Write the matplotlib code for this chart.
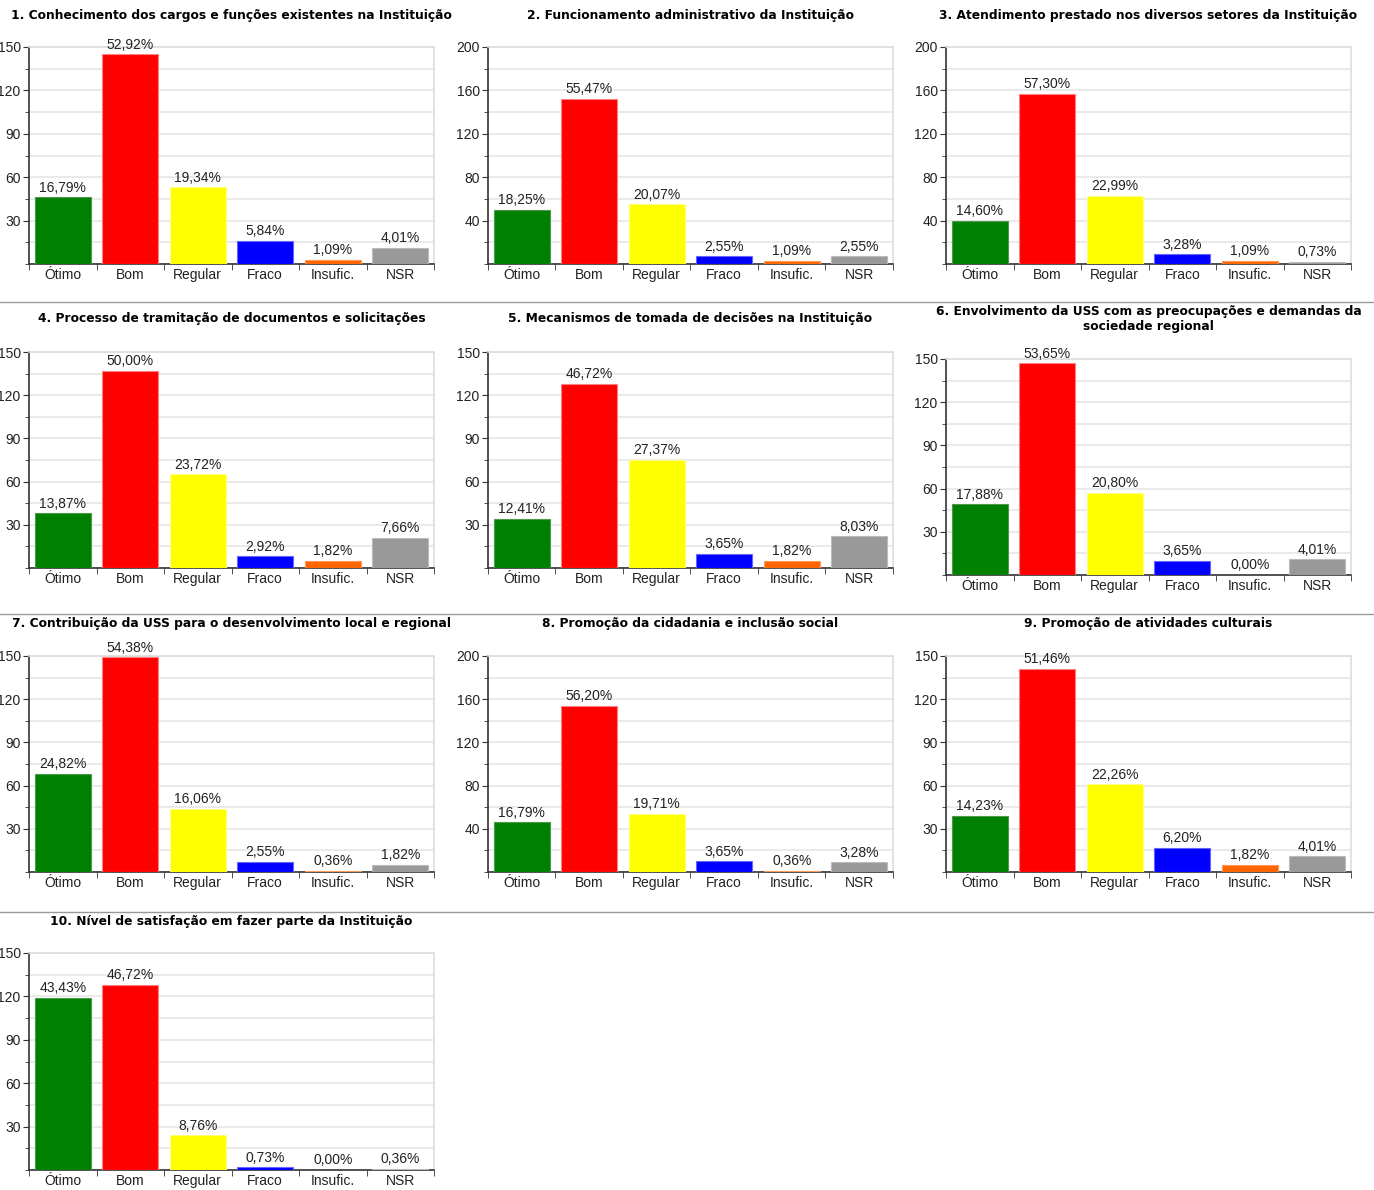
import matplotlib
matplotlib.use("Agg")
import matplotlib.pyplot as plt
from matplotlib.ticker import MultipleLocator

# -----------------------------
# DATA (counts out of 274 respondents)
# -----------------------------
TOTAL = 274
categories = ["Ótimo", "Bom", "Regular", "Fraco", "Insufic.", "NSR"]
colors = ["#008000", "#ff0000", "#ffff00", "#0000ff", "#ff6600", "#999999"]
edges = ["#4d9a4d", "#ff8080", "#ffff80", "#6666ff", "#ff9955", "#bbbbbb"]

titles = [
    "1. Conhecimento dos cargos e funções existentes na Instituição",
    "2. Funcionamento administrativo da Instituição",
    "3. Atendimento prestado nos diversos setores da Instituição",
    "4. Processo de tramitação de documentos e solicitações",
    "5. Mecanismos de tomada de decisões na Instituição",
    "6. Envolvimento da USS com as preocupações e demandas da\nsociedade regional",
    "7. Contribuição da USS para o desenvolvimento local e regional",
    "8. Promoção da cidadania e inclusão social",
    "9. Promoção de atividades culturais",
    "10. Nível de satisfação em fazer parte da Instituição",
]

q1 = [46, 145, 53, 16, 3, 11]
q2 = [50, 152, 55, 7, 3, 7]
q3 = [40, 157, 63, 9, 3, 2]
q4 = [38, 137, 65, 8, 5, 21]
q5 = [34, 128, 75, 10, 5, 22]
q6 = [49, 147, 57, 10, 0, 11]
q7 = [68, 149, 44, 7, 1, 5]
q8 = [46, 154, 54, 10, 1, 9]
q9 = [39, 141, 61, 17, 5, 11]
q10 = [119, 128, 24, 2, 0, 1]
counts = [q1, q2, q3, q4, q5, q6, q7, q8, q9, q10]

y_max = [150, 200, 200, 150, 150, 150, 150, 200, 150, 150]

# -----------------------------
# LAYOUT (pixels)
# -----------------------------
W, H = 1374, 1190
col_left = [29, 488, 946]
ax_w = 405
# (top, bottom) of each plot area, and title centre y
rows = [(47, 264, 15), (352, 568, 319), (656, 872, 623), (953, 1170, 921)]
separators = [302, 614, 912]

fig = plt.figure(figsize=(W / 100, H / 100), dpi=100)
fig.patch.set_facecolor("white")

tick_font = {"family": "Liberation Sans", "size": 10}

for i, vals in enumerate(counts):
    r, c = divmod(i, 3)
    top, bottom, ty = rows[r]
    if i == 5:
        top, bottom = 359, 575
    left = col_left[c]
    ax = fig.add_axes([left / W, 1 - bottom / H, ax_w / W, (bottom - top) / H])

    x = range(len(categories))
    ax.bar(x, vals, width=0.83, color=colors, edgecolor=edges, linewidth=0.8, zorder=3)

    for xi, v in zip(x, vals):
        pct = f"{v / TOTAL * 100:.2f}%".replace(".", ",")
        ax.text(xi, v + y_max[i] * 0.012, pct, ha="center", va="bottom",
                color="#222222", zorder=4, **tick_font)

    ax.set_xlim(-0.5, len(categories) - 0.5)
    ax.set_ylim(0, y_max[i])
    step = y_max[i] / 5
    ax.set_yticks([step * k for k in range(1, 6)])
    ax.set_yticklabels([f"{int(step * k)}" for k in range(1, 6)], **tick_font)
    ax.yaxis.set_minor_locator(MultipleLocator(step / 2))
    ax.grid(axis="y", which="both", color="#e6e6e6", linewidth=1.2, zorder=0)

    ax.set_xticks(list(x))
    ax.set_xticklabels(categories, color="#222222", **tick_font)
    ax.set_xticks([k + 0.5 for k in range(-1, len(categories))], minor=True)
    ax.tick_params(axis="x", which="major", length=0, pad=3)
    ax.tick_params(axis="x", which="minor", length=4, color="#333333")
    ax.tick_params(axis="y", which="major", length=4, pad=2, color="#333333", labelcolor="#222222")
    ax.tick_params(axis="y", which="minor", length=3, color="#333333")

    for s in ["left", "bottom"]:
        ax.spines[s].set_color("#333333")
        ax.spines[s].set_linewidth(1.2)
    for s in ["top", "right"]:
        ax.spines[s].set_color("#dddddd")
        ax.spines[s].set_linewidth(1.2)

    fig.text((left + ax_w / 2) / W, 1 - ty / H, titles[i], ha="center", va="center",
             fontsize=8.8, fontweight="bold", family="DejaVu Sans", linespacing=1.2)

for y in separators:
    fig.add_artist(plt.Line2D([0, 1], [1 - y / H, 1 - y / H], color="#999999", linewidth=1))

plt.savefig("out.png", dpi=100, facecolor="white")
